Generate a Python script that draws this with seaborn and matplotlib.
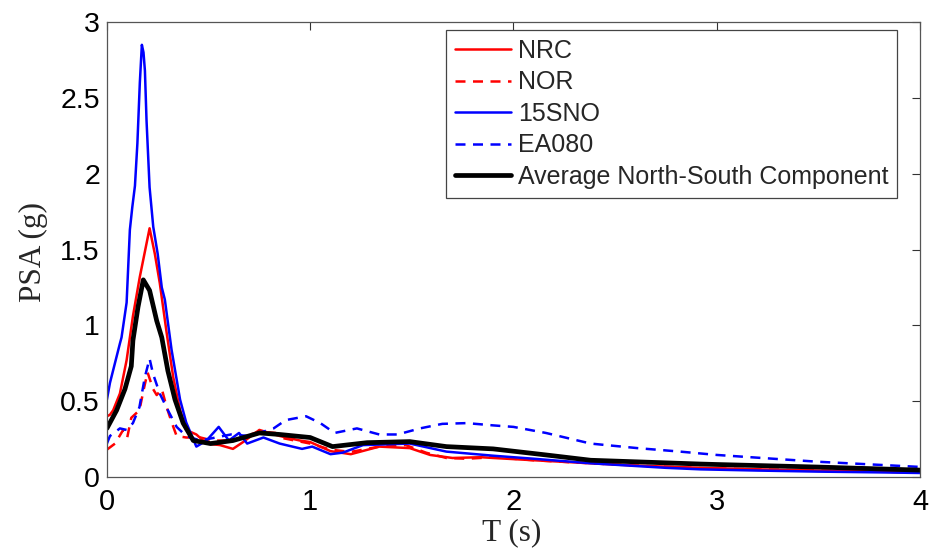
import numpy as np
import pandas as pd
import matplotlib
matplotlib.use("Agg")
import matplotlib.pyplot as plt
import seaborn as sns

# ---- data ----
nrc_T = [0.0, 0.015, 0.031, 0.064, 0.097, 0.128, 0.162, 0.21, 0.236, 0.26, 0.294, 0.326, 0.36, 0.39,
         0.44, 0.49, 0.556, 0.62, 0.67, 0.75, 0.80, 0.85, 0.95, 1.0, 1.10, 1.2, 1.34, 1.49, 1.59,
         1.70, 1.84, 1.90, 2.1, 2.38, 2.6, 2.92, 3.2, 3.5, 3.8, 4.0]
nrc_PSA = [0.40, 0.41, 0.44, 0.55, 0.77, 1.06, 1.32, 1.64, 1.47, 1.28, 0.95, 0.66, 0.44, 0.31,
           0.28, 0.22, 0.21, 0.185, 0.23, 0.31, 0.29, 0.27, 0.24, 0.23, 0.17, 0.15, 0.20, 0.19, 0.145,
           0.125, 0.13, 0.125, 0.11, 0.09, 0.075, 0.06, 0.05, 0.042, 0.035, 0.03]

nor_T = [0.0, 0.04, 0.08, 0.10, 0.12, 0.16, 0.18, 0.20, 0.227, 0.245, 0.27, 0.294, 0.32, 0.343,
         0.39, 0.46, 0.52, 0.62, 0.75, 0.83, 0.85, 1.0, 1.10, 1.2, 1.34, 1.47, 1.57, 1.67, 1.77,
         1.90, 2.1, 2.38, 2.6, 2.92, 3.2, 3.5, 3.8, 4.0]
nor_PSA = [0.18, 0.22, 0.31, 0.26, 0.39, 0.44, 0.57, 0.69, 0.58, 0.54, 0.58, 0.46, 0.355, 0.27,
           0.26, 0.26, 0.24, 0.24, 0.30, 0.29, 0.26, 0.22, 0.18, 0.165, 0.20, 0.21, 0.16, 0.125, 0.12,
           0.13, 0.11, 0.09, 0.075, 0.058, 0.05, 0.042, 0.035, 0.03]

sno_T = [0.0, 0.015, 0.064, 0.072, 0.097, 0.113, 0.125, 0.138, 0.150, 0.162, 0.172, 0.180, 0.187,
         0.195, 0.21, 0.228, 0.25, 0.27, 0.285, 0.318, 0.36, 0.39, 0.44, 0.49, 0.55, 0.60, 0.65,
         0.69, 0.77, 0.85, 0.96, 1.01, 1.10, 1.16, 1.26, 1.49, 1.67, 1.90, 2.1, 2.38, 2.75, 2.92,
         3.2, 3.5, 3.8, 4.0]
sno_PSA = [0.51, 0.62, 0.88, 0.92, 1.15, 1.63, 1.78, 1.92, 2.20, 2.60, 2.85, 2.80, 2.68,
           2.35, 1.91, 1.65, 1.47, 1.25, 1.17, 0.84, 0.51, 0.36, 0.20, 0.24, 0.33, 0.24, 0.29,
           0.22, 0.26, 0.22, 0.185, 0.20, 0.15, 0.16, 0.21, 0.22, 0.167, 0.14, 0.12, 0.09, 0.06, 0.05,
           0.042, 0.035, 0.03, 0.026]

ea_T = [0.0, 0.015, 0.064, 0.097, 0.128, 0.16, 0.187, 0.21, 0.227, 0.26, 0.30, 0.343, 0.39, 0.46,
        0.61, 0.70, 0.82, 0.88, 0.98, 1.05, 1.12, 1.23, 1.34, 1.43, 1.54, 1.65, 1.77, 1.90, 2.0,
        2.16, 2.38, 2.61, 2.82, 3.0, 3.5, 4.0]
ea_PSA = [0.22, 0.27, 0.32, 0.31, 0.355, 0.46, 0.66, 0.78, 0.68, 0.55, 0.44, 0.33, 0.27, 0.24,
          0.28, 0.27, 0.32, 0.375, 0.40, 0.355, 0.29, 0.32, 0.28, 0.28, 0.32, 0.35, 0.355, 0.34, 0.33,
          0.29, 0.22, 0.19, 0.167, 0.145, 0.10, 0.066]

avg_T = [0.0, 0.048, 0.089, 0.12, 0.128, 0.153, 0.179, 0.21, 0.245, 0.27, 0.30, 0.335, 0.375,
         0.425, 0.51, 0.62, 0.75, 0.85, 1.0, 1.11, 1.28, 1.49, 1.67, 1.90, 2.16, 2.38, 2.92, 3.0,
         3.5, 4.0]
avg_PSA = [0.32, 0.44, 0.58, 0.73, 0.90, 1.12, 1.30, 1.23, 1.03, 0.92, 0.70, 0.51, 0.355,
           0.24, 0.22, 0.24, 0.29, 0.28, 0.26, 0.20, 0.226, 0.233, 0.20, 0.185, 0.145, 0.11, 0.085, 0.082,
           0.065, 0.045]

series_names = ["NRC", "NOR", "15SNO", "EA080", "Average North-South Component"]
x_ticks = [0, 1, 2, 3, 4]
x_ticklabels = ["0", "1", "2", "3", "4"]
y_ticks = [0, 0.5, 1, 1.5, 2, 2.5, 3]
y_ticklabels = ["0", "0.5", "1", "1.5", "2", "2.5", "3"]

# ---- plot ----
sns.set_style("white")
plt.rcParams['font.family'] = ['Liberation Sans', 'DejaVu Sans']

fig = plt.figure(figsize=(9.46, 5.52), dpi=100)
ax = fig.add_axes([0.113, 0.136, 0.8595, 0.824])

specs = [
    (nrc_T, nrc_PSA, "#ff0000", "-", 1.8),
    (nor_T, nor_PSA, "#ff0000", "--", 1.8),
    (sno_T, sno_PSA, "#0000ff", "-", 1.8),
    (ea_T, ea_PSA, "#0000ff", "--", 1.8),
    (avg_T, avg_PSA, "#000000", "-", 3.4),
]
for (t, p, c, ls, lw), name in zip(specs, series_names):
    df = pd.DataFrame({"T": t, "PSA": p})
    sns.lineplot(data=df, x="T", y="PSA", ax=ax, color=c, linewidth=lw,
                 label=name, estimator=None, sort=False)
    ln = ax.get_lines()[-1]
    if ls == "--":
        ln.set_dashes((4, 3))

ax.set_xlim(0, 4)
ax.set_ylim(0, 3)
ax.set_xticks(x_ticks)
ax.set_yticks(y_ticks)
ax.set_xticklabels(x_ticklabels)
ax.set_yticklabels(y_ticklabels)
ax.tick_params(direction="in", length=6, width=0.8, top=True, right=True,
               colors="#333333", labelcolor="black")
ax.tick_params(axis="y", labelsize=20.5, pad=5)
ax.tick_params(axis="x", labelsize=21, pad=8)
for s in ax.spines.values():
    s.set_color("#555555")
    s.set_linewidth(0.9)

ax.set_xlabel("T (s)", fontsize=22.5, family=["Liberation Serif"], va="center")
ax.xaxis.set_label_coords(0.498, -0.123)
ax.set_ylabel("PSA (g)", fontsize=22.5, family=["Liberation Serif"], va="center")
ax.yaxis.set_label_coords(-0.0898, 0.4945)

leg = ax.legend(loc="upper right", bbox_to_anchor=(0.9717, 0.9824), fontsize=18,
                frameon=True, fancybox=False, edgecolor="#444444", framealpha=1,
                handlelength=2.26, handletextpad=0.25, labelspacing=0.3,
                borderpad=0.35, borderaxespad=0)
leg.get_frame().set_linewidth(0.9)

fig.savefig("out.png", dpi=100, facecolor="white")
